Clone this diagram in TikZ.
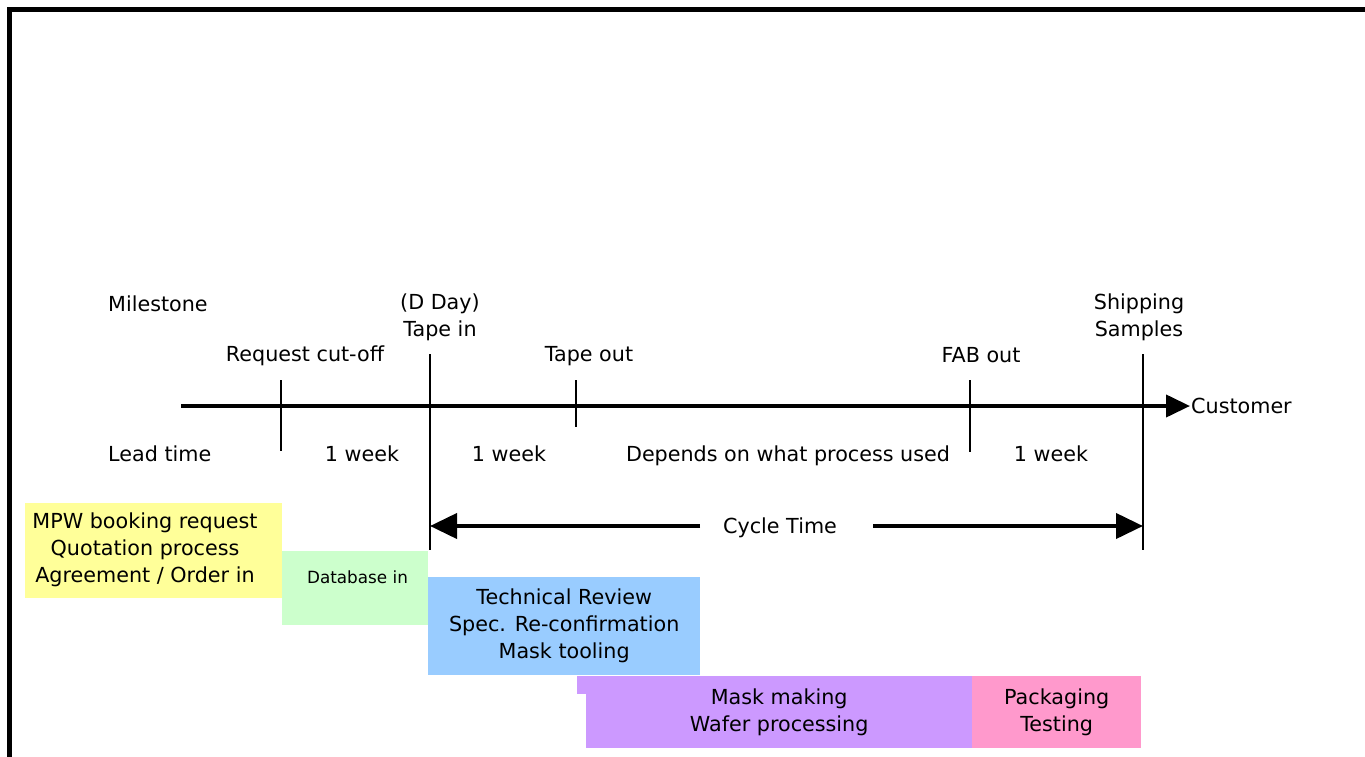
\documentclass[tikz,border=0pt]{standalone}
\usepackage{fontspec}
\setmainfont{DejaVu Sans}
\usetikzlibrary{arrows.meta}
\definecolor{phyellow}{HTML}{FFFF99}
\definecolor{phgreen}{HTML}{CCFFCC}
\definecolor{phblue}{HTML}{99CCFF}
\definecolor{phpurple}{HTML}{CC99FF}
\definecolor{phpink}{HTML}{FF99CC}
\begin{document}
\begin{tikzpicture}[x=1pt,y=-1pt,
  lbl/.style={inner sep=0pt, font=\fontsize{20.7}{27}\selectfont, align=center},
  phase/.style={draw=none, inner sep=0pt, anchor=north west,
    font=\fontsize{20.7}{27}\selectfont, align=center},
  ticks/.style={line width=2pt},
  axis/.style={line width=4pt, -{Triangle[length=24pt,width=22pt]}},
  span/.style={line width=4pt, -{Triangle[length=27pt,width=25pt]}}]
\useasboundingbox (0,0) rectangle (1365,757);

% outer frame (top and left edges)
\draw[line width=5pt] (9.5,757) -- (9.5,9.5) -- (1365,9.5);

% phase boxes
\node[phase, fill=phyellow, minimum width=257pt, minimum height=95pt] (yellow) at (25,503) {};
\node[lbl] (yellowtxt) at (145,549.5) {MPW booking request\\Quotation process\\Agreement / Order in};
\node[phase, fill=phgreen, minimum width=146pt, minimum height=74pt] (green) at (282,551) {};
\node[inner sep=0pt, font=\fontsize{16.8}{18}\selectfont] (greentxt) at (357.5,577) {Database in};
\node[phase, fill=phblue, minimum width=272pt, minimum height=98pt] (blue) at (428,577)
  {Technical Review\\Spec. Re-confirmation\\Mask tooling};
\fill[phpurple] (577,676) rectangle (586,694);
\node[phase, fill=phpurple, minimum width=386pt, minimum height=72pt] (purple) at (586,676)
  {Mask making\\Wafer processing};
\node[phase, fill=phpink, minimum width=169pt, minimum height=72pt] (pink) at (972,676)
  {Packaging\\Testing};

% milestone labels
\node[lbl, anchor=west] (milestone) at (108,304) {Milestone};
\node[lbl] (dday) at (440,317.5) {(D Day)\\Tape in};
\node[lbl] (cutoff) at (305,356) {Request cut-off};
\node[lbl] (tapeout) at (589,356) {Tape out};
\node[lbl] (fabout) at (981,355) {FAB out};
\node[lbl] (ship) at (1139,317.5) {Shipping\\Samples};

% lead time labels
\node[lbl, anchor=west] (lead) at (108,454) {Lead time};
\node[lbl] (w1) at (362,454) {1 week};
\node[lbl] (w2) at (509,454) {1 week};
\node[lbl] (dep) at (788,456) {Depends on what process used};
\node[lbl] (w4) at (1051,454) {1 week};

% time axis
\coordinate (axstart) at (181,406);
\node[lbl, anchor=west, inner xsep=1pt] (cust) at (1190,406) {Customer};
\draw[axis] (axstart) -- (cust.west);

% milestone ticks
\coordinate (cutA) at (281,380);  \coordinate (cutB) at (281,451);
\coordinate (tinA) at (430,354);  \coordinate (tinB) at (430,550);
\coordinate (toutA) at (576,380); \coordinate (toutB) at (576,427);
\coordinate (fabA) at (970,380);  \coordinate (fabB) at (970,452);
\coordinate (shipA) at (1143,354); \coordinate (shipB) at (1143,550);
\draw[ticks] (cutA) -- (cutB);
\draw[ticks] (tinA) -- (tinB);
\draw[ticks] (toutA) -- (toutB);
\draw[ticks] (fabA) -- (fabB);
\draw[ticks] (shipA) -- (shipB);

% cycle time span
\node[lbl] (cycle) at (780,528) {Cycle Time};
\coordinate (cycL) at (700,526);
\coordinate (cycR) at (873,526);
\draw[span] (cycL) -- (tinA |- cycL);
\draw[span] (cycR) -- (shipA |- cycR);
\end{tikzpicture}
\end{document}
